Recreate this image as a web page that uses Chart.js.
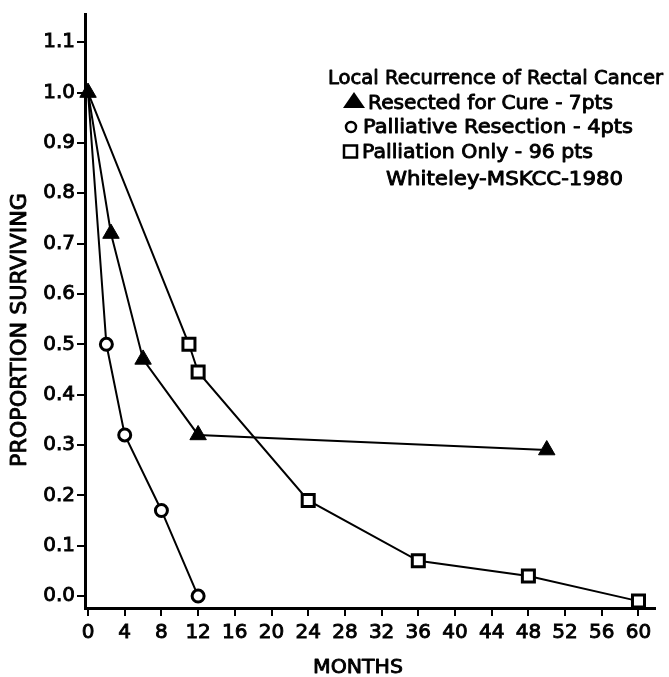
<!DOCTYPE html>
<html>
<head>
<meta charset="utf-8">
<script src="https://cdn.jsdelivr.net/npm/chart.js@4.4.1/dist/chart.umd.min.js"></script>
<style>
  html, body { margin: 0; padding: 0; background: #fff; }
  #wrap { width: 669px; height: 677px; }
</style>
</head>
<body>
<div id="wrap"><canvas id="survChart" width="669" height="677"></canvas></div>
<script>
// tick values
const monthTicks = [0, 4, 8, 12, 16, 20, 24, 28, 32, 36, 40, 44, 48, 52, 56, 60];
const propTicks = [0.0, 0.1, 0.2, 0.3, 0.4, 0.5, 0.6, 0.7, 0.8, 0.9, 1.0, 1.1];

// Resected for Cure - 7pts (triangles)
const cureMonths = [0, 2.5, 6, 12, 50];
const cureSurv = [1.0, 0.72, 0.47, 0.32, 0.29];

// Palliative Resection - 4pts (circles)
const palResMonths = [0, 2, 4, 8, 12];
const palResSurv = [1.0, 0.50, 0.32, 0.17, 0.0];

// Palliation Only - 96 pts (squares)
const palOnlyMonths = [0, 11, 12, 24, 36, 48, 60];
const palOnlySurv = [1.0, 0.50, 0.445, 0.19, 0.07, 0.04, -0.01];

const legendTitle = 'Local Recurrence of Rectal Cancer';
const legendItems = ['Resected for Cure - 7pts', 'Palliative Resection - 4pts', 'Palliation Only - 96 pts'];
const legendSource = 'Whiteley-MSKCC-1980';
const xTitle = 'MONTHS';
const yTitle = 'PROPORTION SURVIVING';

const FONT = "'DejaVu Sans', 'Liberation Sans', sans-serif";

function toPoints(xs, ys) {
  return xs.map((x, i) => ({ x, y: ys[i] }));
}

// shared start point (0, 1.0) only shows the triangle
const hideFirst = r => c => (c.dataIndex === 0 ? 0 : r);

// text squeezed/stretched to a target width, slightly thickened
function fitText(ctx, text, x, y, width, size, rotate) {
  ctx.save();
  ctx.font = size + 'px ' + FONT;
  const w = ctx.measureText(text).width;
  ctx.translate(x, y);
  if (rotate) ctx.rotate(-Math.PI / 2);
  ctx.scale(width / w, 1);
  ctx.textAlign = 'center';
  ctx.textBaseline = 'alphabetic';
  ctx.fillStyle = '#000';
  ctx.strokeStyle = '#000';
  ctx.lineWidth = 0.9;
  ctx.lineJoin = 'round';
  ctx.fillText(text, 0, 0);
  ctx.strokeText(text, 0, 0);
  ctx.restore();
}

const annotations = {
  id: 'annotations',
  afterDraw(chart) {
    const ctx = chart.ctx;

    /* ---- axis titles ---- */
    fitText(ctx, xTitle, 358, 673, 90, 20, false);
    fitText(ctx, yTitle, 26, 330, 274, 22, true);

    /* ---- legend ---- */
    fitText(ctx, legendTitle, 495.5, 84, 335, 19.5, false);
    fitText(ctx, legendItems[0], 490.5, 109, 245, 19.5, false);
    fitText(ctx, legendItems[1], 498, 133, 270, 19.5, false);
    fitText(ctx, legendItems[2], 477.5, 158, 231, 19.5, false);
    fitText(ctx, legendSource, 504.5, 185, 237, 19.5, false);

    ctx.save();
    ctx.fillStyle = '#000';
    ctx.strokeStyle = '#000';
    // triangle
    ctx.beginPath();
    ctx.moveTo(354, 92);
    ctx.lineTo(365, 108);
    ctx.lineTo(343, 108);
    ctx.closePath();
    ctx.fill();
    // circle
    ctx.lineWidth = 2.5;
    ctx.beginPath();
    ctx.arc(351, 127, 5, 0, Math.PI * 2);
    ctx.stroke();
    // square
    ctx.strokeRect(344, 145.5, 13, 12);
    ctx.restore();
  }
};

const ctx = document.getElementById('survChart').getContext('2d');

new Chart(ctx, {
  type: 'line',
  data: {
    datasets: [
      {
        label: legendItems[0],
        data: toPoints(cureMonths, cureSurv),
        borderColor: '#000',
        borderWidth: 2,
        pointStyle: 'triangle',
        pointRadius: 9.5,
        pointBackgroundColor: '#000',
        pointBorderColor: '#000',
        pointBorderWidth: 1,
        tension: 0,
        clip: false
      },
      {
        label: legendItems[1],
        data: toPoints(palResMonths, palResSurv),
        borderColor: '#000',
        borderWidth: 2,
        pointStyle: 'circle',
        pointRadius: hideFirst(6),
        pointBackgroundColor: '#fff',
        pointBorderColor: '#000',
        pointBorderWidth: 3,
        tension: 0,
        clip: false
      },
      {
        label: legendItems[2],
        data: toPoints(palOnlyMonths, palOnlySurv),
        borderColor: '#000',
        borderWidth: 2,
        pointStyle: 'rect',
        pointRadius: hideFirst(8.5),
        pointBackgroundColor: '#fff',
        pointBorderColor: '#000',
        pointBorderWidth: 3,
        tension: 0,
        clip: false
      }
    ]
  },
  options: {
    responsive: false,
    animation: false,
    events: [],
    layout: { padding: { top: 10, right: 14, left: 0, bottom: 0 } },
    plugins: {
      legend: { display: false },
      tooltip: { enabled: false }
    },
    scales: {
      x: {
        type: 'linear',
        min: -0.33,
        max: 61.8,
        afterBuildTicks: scale => { scale.ticks = monthTicks.map(v => ({ value: v })); },
        afterFit: scale => { scale.height = 69; },
        border: { display: true, color: '#000', width: 3 },
        grid: { drawOnChartArea: false, drawTicks: true, tickLength: 8, color: '#000', lineWidth: 2 },
        ticks: {
          color: '#000',
          padding: 5,
          maxRotation: 0,
          autoSkip: false,
          textStrokeColor: '#000',
          textStrokeWidth: 0.9,
          font: { family: FONT, size: 20 },
          callback: v => String(v)
        }
      },
      y: {
        type: 'linear',
        min: -0.0237,
        max: 1.156,
        afterBuildTicks: scale => { scale.ticks = propTicks.map(v => ({ value: v })); },
        afterFit: scale => { scale.width = 85; },
        border: { display: true, color: '#000', width: 3 },
        grid: { drawOnChartArea: false, drawTicks: true, tickLength: 8, color: '#000', lineWidth: 2 },
        ticks: {
          color: '#000',
          padding: 2,
          autoSkip: false,
          textStrokeColor: '#000',
          textStrokeWidth: 0.9,
          font: { family: FONT, size: 20 },
          callback: v => v.toFixed(1)
        }
      }
    }
  },
  plugins: [annotations]
});
</script>
</body>
</html>
